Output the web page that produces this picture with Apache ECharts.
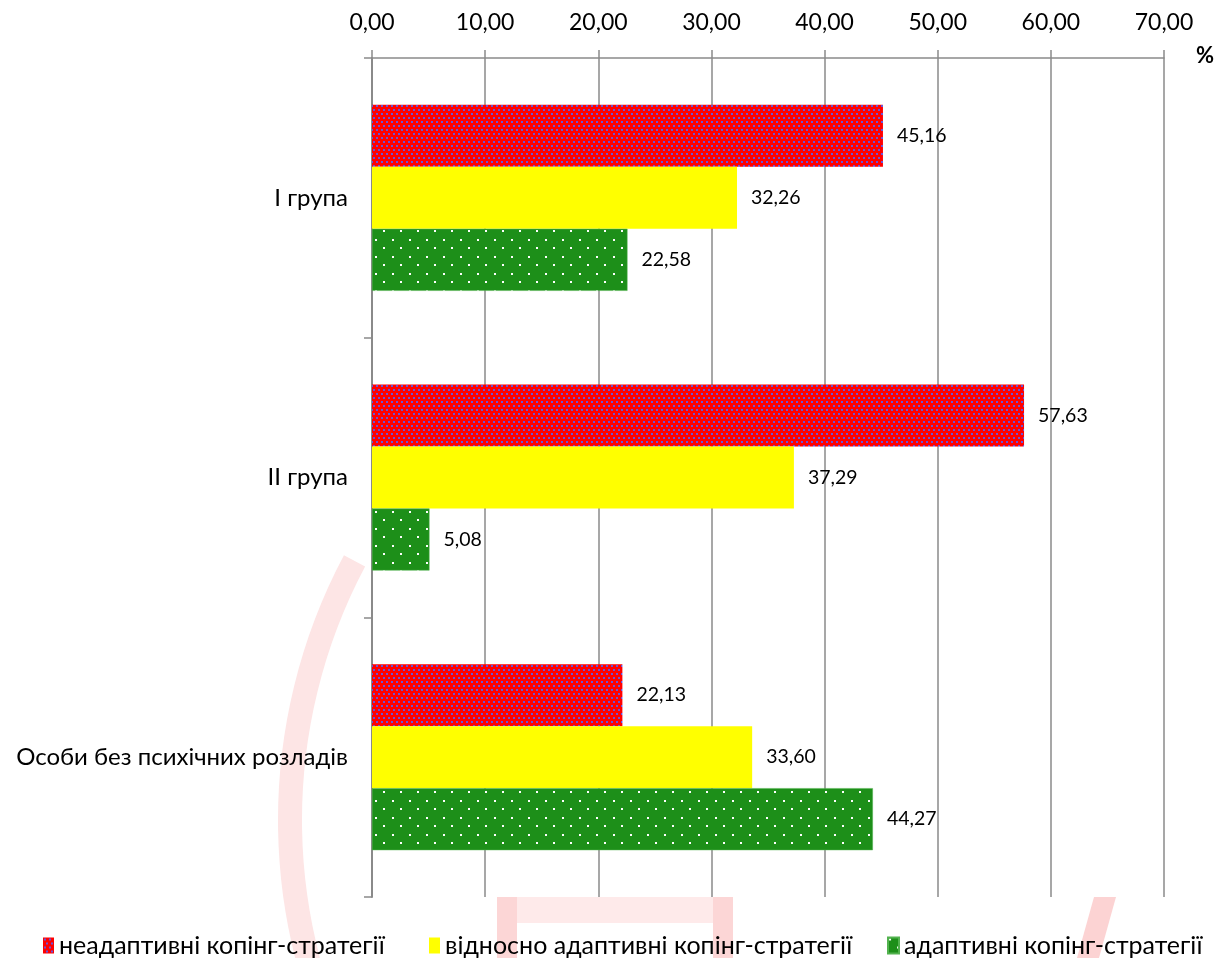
<!DOCTYPE html>
<html>
<head>
<meta charset="utf-8">
<script src="https://cdn.jsdelivr.net/npm/echarts@6/dist/echarts.min.js"></script>
<style>
html,body{margin:0;padding:0;background:#fff;}
#chart{width:1221px;height:958px;}
</style>
</head>
<body>
<div id="chart"></div>
<script>
const categories = ['I група', 'II група', 'Особи без психічних розладів'];
const seriesNames = ['неадаптивні копінг-стратегії', 'відносно адаптивні копінг-стратегії', 'адаптивні копінг-стратегії'];
const maladaptive = [45.16, 57.63, 22.13];
const relativelyAdaptive = [32.26, 37.29, 33.60];
const adaptive = [22.58, 5.08, 44.27];
const axisTicks = [0, 10, 20, 30, 40, 50, 60, 70];

const FONT = 'Lato';

function makePattern(w, h, bg, dotColor, dots, ds) {
  const c = document.createElement('canvas');
  c.width = w; c.height = h;
  const ctx = c.getContext('2d');
  ctx.fillStyle = bg; ctx.fillRect(0, 0, w, h);
  ctx.fillStyle = dotColor;
  dots.forEach(d => ctx.fillRect(d[0], d[1], ds, ds));
  return { image: c, repeat: 'repeat' };
}
const redPattern = makePattern(10, 8, '#ff0000', '#6a52d8', [[1,1],[6,1],[3,5],[8,5]], 2);
const yellowColor = '#ffff00';
const greenPattern = makePattern(17, 17, '#1d8f19', '#ffffff', [[1,1],[9,9]], 2);

const fmt = v => Number(v).toFixed(2).replace('.', ',');

const chart = echarts.init(document.getElementById('chart'), null, { renderer: 'canvas' });

const labelCfg = {
  show: true, position: 'right', distance: 14,
  color: '#000', fontSize: 19.5, fontFamily: FONT,
  formatter: p => fmt(p.value)
};

function legendAt(left, name) {
  return {
    data: [name], left: left, top: 928, orient: 'horizontal',
    itemWidth: 11, itemHeight: 16, itemGap: 0,
    icon: 'rect',
    textStyle: { fontSize: 25, color: '#000', fontFamily: FONT, padding: [0, 0, 0, 0] },
    selectedMode: false
  };
}

const option = {
  backgroundColor: '#ffffff',
  animation: false,
  textStyle: { fontFamily: FONT },
  graphic: {
    elements: [
      { type: 'arc', silent: true,
        shape: { cx: 842, cy: 820, r: 552, startAngle: 2.618, endAngle: 3.63, clockwise: true },
        style: { fill: 'none', stroke: '#fde5e5', lineWidth: 24 } },
      { type: 'rect', silent: true,
        shape: { x: 497, y: 897, width: 20, height: 61 }, style: { fill: '#fcd6d6' } },
      { type: 'rect', silent: true,
        shape: { x: 713, y: 897, width: 20, height: 61 }, style: { fill: '#fcd6d6' } },
      { type: 'rect', silent: true,
        shape: { x: 517, y: 897, width: 196, height: 26 }, style: { fill: '#feeaea' } },
      { type: 'polygon', silent: true,
        shape: { points: [[1094, 897], [1116, 897], [1099, 958], [1077, 958]] },
        style: { fill: '#fcd3d3' } },
      { type: 'text', z: 10, left: 1196, top: 45,
        style: { text: '%', fontSize: 22, fontWeight: 'bold', fill: '#000', fontFamily: FONT } }
    ]
  },
  grid: {
    left: 372, right: 57, top: 58, bottom: 61,
    show: false
  },
  legend: [
    legendAt(38, seriesNames[0]),
    legendAt(424, seriesNames[1]),
    legendAt(882, seriesNames[2])
  ],
  xAxis: {
    type: 'value', position: 'top',
    min: axisTicks[0], max: axisTicks[axisTicks.length - 1], interval: 10,
    axisLine: { show: true, lineStyle: { color: '#8a8a8a', width: 1.5 } },
    axisTick: { show: true, inside: false, length: 8, lineStyle: { color: '#8a8a8a', width: 1.5 } },
    splitLine: { show: true, lineStyle: { color: '#8a8a8a', width: 1.5 } },
    axisLabel: { formatter: v => fmt(v), fontSize: 23, color: '#000', margin: 24, fontFamily: FONT }
  },
  yAxis: {
    type: 'category', inverse: true, data: categories,
    axisLine: { show: true, lineStyle: { color: '#8a8a8a', width: 2 } },
    axisTick: { show: true, length: 8, lineStyle: { color: '#8a8a8a', width: 1.5 } },
    axisLabel: { fontSize: 24, color: '#000', margin: 24, fontFamily: FONT }
  },
  series: [
    { name: seriesNames[0], type: 'bar', data: maladaptive, barWidth: 62, barGap: '0%',
      itemStyle: { color: redPattern }, label: labelCfg, z: 3 },
    { name: seriesNames[1], type: 'bar', data: relativelyAdaptive, barWidth: 62, barGap: '0%',
      itemStyle: { color: yellowColor }, label: labelCfg, z: 3 },
    { name: seriesNames[2], type: 'bar', data: adaptive, barWidth: 62, barGap: '0%',
      itemStyle: { color: greenPattern, borderColor: '#52b24e', borderWidth: 0.5 }, label: labelCfg, z: 3 }
  ]
};
chart.setOption(option);
</script>
</body>
</html>
